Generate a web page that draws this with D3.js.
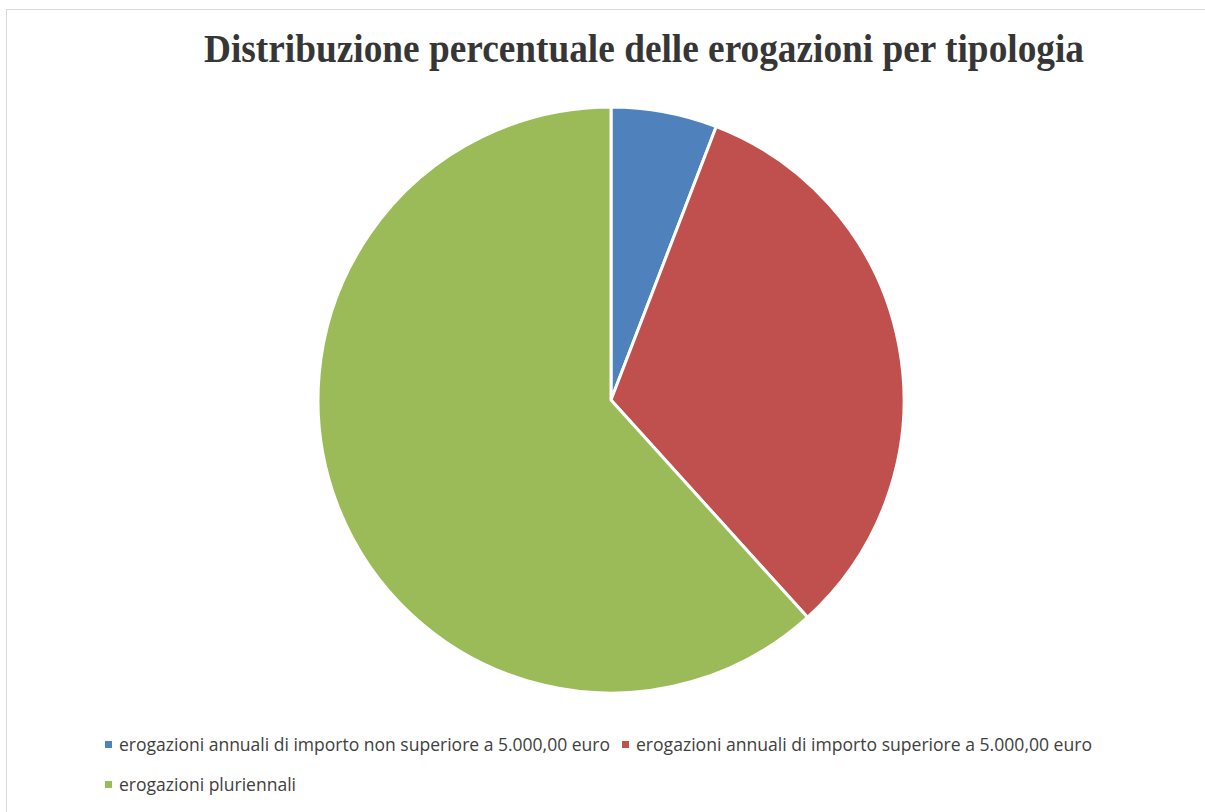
<!DOCTYPE html>
<html>
<head>
<meta charset="utf-8">
<script src="https://cdn.jsdelivr.net/npm/d3@7/dist/d3.min.js"></script>
<style>
  html, body { margin: 0; padding: 0; background: #fff; }
  svg { display: block; }
</style>
</head>
<body>
<svg id="chart" width="1205" height="812"></svg>
<script>
// Share of disbursements by type (%)
const categories = [
  "erogazioni annuali di importo non superiore a 5.000,00 euro",
  "erogazioni annuali di importo superiore a 5.000,00 euro",
  "erogazioni pluriennali"
];
const values = [5.85, 32.45, 61.7];
const colors = ["#4F81BD", "#C0504D", "#9BBB59"];
const title = "Distribuzione percentuale delle erogazioni per tipologia";

const svg = d3.select("#chart");
const W = 1205, H = 812;

// chart area frame
svg.append("rect")
  .attr("x", 6.5).attr("y", 9.5)
  .attr("width", W + 10).attr("height", H + 10)
  .attr("fill", "#fff")
  .attr("stroke", "#d9d9d9").attr("stroke-width", 1);

// title
svg.append("text")
  .attr("x", 644).attr("y", 62)
  .attr("text-anchor", "middle")
  .attr("font-family", "'Liberation Serif', 'Times New Roman', serif")
  .attr("font-weight", "bold")
  .attr("font-size", 40)
  .attr("fill", "#363636")
  .attr("textLength", 880)
  .attr("lengthAdjust", "spacingAndGlyphs")
  .text(title);

// pie
const cx = 611, cy = 400, r = 293;
const data = categories.map((c, i) => ({ name: c, value: values[i], color: colors[i] }));
const pie = d3.pie().value(d => d.value).sort(null);
const arc = d3.arc().innerRadius(0).outerRadius(r);

svg.append("g")
  .attr("transform", `translate(${cx},${cy})`)
  .selectAll("path")
  .data(pie(data))
  .join("path")
  .attr("d", arc)
  .attr("fill", d => d.data.color)
  .attr("stroke", "#fff")
  .attr("stroke-width", 3)
  .attr("stroke-linejoin", "round");

// legend
const legendFont = "'Liberation Sans Narrow', 'Open Sans', 'Liberation Sans', sans-serif";
const legendItems = [
  { x: 105, y: 745, len: 491 },
  { x: 622, y: 745, len: 456 },
  { x: 105, y: 785, len: 177 }
];
const lg = svg.append("g");
data.forEach((d, i) => {
  const p = legendItems[i];
  lg.append("rect")
    .attr("x", p.x).attr("y", p.y - 4)
    .attr("width", 7).attr("height", 7)
    .attr("fill", d.color);
  lg.append("text")
    .attr("x", p.x + 14).attr("y", p.y + 6)
    .attr("font-family", legendFont)
    .attr("font-size", 18)
    .attr("fill", "#404040")
    .attr("textLength", p.len)
    .attr("lengthAdjust", "spacingAndGlyphs")
    .text(d.name);
});
</script>
</body>
</html>
